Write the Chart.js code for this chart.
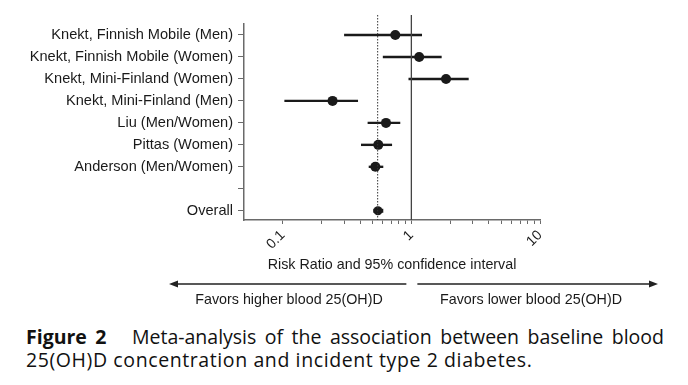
<!DOCTYPE html>
<html>
<head>
<meta charset="utf-8">
<script src="https://cdn.jsdelivr.net/npm/chart.js@4"></script>
<style>
  body { margin: 0; background: #fff; }
  #wrap { position: relative; width: 688px; height: 385px; }
  #caption {
    position: absolute; left: 26px; top: 325px; width: 638px;
    font-family: "Open Sans", "Noto Sans", sans-serif; font-size: 19.5px;
    line-height: 23px; color: #111;
  }
  #caption .l1 { white-space: nowrap; text-align: justify; text-align-last: justify; }
  #caption .l2 { letter-spacing: 0.6px; }
</style>
</head>
<body>
<div id="wrap">
  <canvas id="forest" width="688" height="310"></canvas>
  <div id="caption">
    <div class="l1"><b>Figure 2</b>&nbsp;&nbsp; Meta-analysis of the association between baseline blood</div>
    <div class="l2">25(OH)D concentration and incident type 2 diabetes.</div>
  </div>
</div>
<script>
const studies = [
  'Knekt, Finnish Mobile (Men)',
  'Knekt, Finnish Mobile (Women)',
  'Knekt, Mini-Finland (Women)',
  'Knekt, Mini-Finland (Men)',
  'Liu (Men/Women)',
  'Pittas (Women)',
  'Anderson (Men/Women)',
  '',
  'Overall'
];
const riskRatio = [0.75, 1.15, 1.86, 0.244, 0.635, 0.553, 0.525, null, 0.55];
const ciLower   = [0.30, 0.60, 0.95, 0.103, 0.457, 0.406, 0.466, null, 0.506];
const ciUpper   = [1.21, 1.72, 2.79, 0.385, 0.82, 0.708, 0.605, null, 0.605];
const pooledRR = 0.547;
const xTicks = [0.1, 0.2, 0.3, 0.4, 0.5, 0.6, 0.7, 0.8, 0.9, 1, 2, 3, 4, 5, 6, 7, 8, 9, 10];
const xLabels = [0.1, 1, 10];

const font = '"Liberation Sans", Arial, sans-serif';
const ink = '#1a1a1a';
const axisGray = '#6a6a6a';

const datasets = [];
// reference lines (no effect + pooled estimate), run slightly above the plot
datasets.push({
  type: 'line', data: [{x: 1, y: -0.91}, {x: 1, y: 8.42}],
  borderColor: '#444', borderWidth: 1.3, pointRadius: 0, clip: false
});
datasets.push({
  type: 'line', data: [{x: pooledRR, y: -0.91}, {x: pooledRR, y: 8.42}],
  borderColor: '#333', borderWidth: 1, borderDash: [1.5, 1.5], pointRadius: 0, clip: false
});
// confidence intervals
studies.forEach((s, i) => {
  if (riskRatio[i] == null) return;
  datasets.push({
    type: 'line', data: [{x: ciLower[i], y: i}, {x: ciUpper[i], y: i}],
    borderColor: ink, borderWidth: i === 8 ? 4 : 2.4, pointRadius: 0
  });
});
// point estimates
datasets.push({
  type: 'scatter',
  data: riskRatio.map((v, i) => v == null ? null : {x: v, y: i}).filter(p => p),
  backgroundColor: ink, borderColor: ink,
  pointRadius: riskRatio.filter(v => v != null).map((v, k, a) => k === a.length - 1 ? 4.5 : 5),
  borderWidth: 0
});

const favorsArrows = {
  id: 'favorsArrows',
  afterDraw(chart) {
    const ctx = chart.ctx;
    const mid = chart.scales.x.getPixelForValue(1);
    const y = 284;
    ctx.save();
    ctx.strokeStyle = '#222';
    ctx.fillStyle = '#222';
    ctx.lineWidth = 1.3;
    ctx.beginPath();
    ctx.moveTo(176, y); ctx.lineTo(mid - 5, y);
    ctx.moveTo(mid + 6, y); ctx.lineTo(651, y);
    ctx.stroke();
    ctx.beginPath();
    ctx.moveTo(169, y); ctx.lineTo(178, y - 3.5); ctx.lineTo(178, y + 3.5); ctx.closePath();
    ctx.moveTo(658, y); ctx.lineTo(649, y - 3.5); ctx.lineTo(649, y + 3.5); ctx.closePath();
    ctx.fill();
    ctx.font = '14.3px ' + font;
    ctx.fillStyle = ink;
    ctx.textAlign = 'center';
    ctx.textBaseline = 'middle';
    ctx.fillText('Favors higher blood 25(OH)D', 289, 300);
    ctx.fillText('Favors lower blood 25(OH)D', 531, 300);
    ctx.restore();
  }
};

new Chart(document.getElementById('forest'), {
  type: 'scatter',
  data: { datasets: datasets },
  options: {
    responsive: false,
    animation: false,
    layout: { padding: { top: 24, right: 148, bottom: 32, left: 0 } },
    plugins: { legend: { display: false }, tooltip: { enabled: false } },
    scales: {
      x: {
        type: 'logarithmic',
        position: 'bottom',
        min: 0.05,
        max: 10,
        afterBuildTicks: (s) => { s.ticks = xTicks.map(v => ({value: v})); },
        afterFit: (s) => { s.height = 58; },
        ticks: {
          autoSkip: false, minRotation: 45, maxRotation: 45, padding: 3,
          color: ink, font: { family: font, size: 14 },
          callback: (v) => xLabels.includes(v) ? String(v) : ''
        },
        grid: { drawOnChartArea: false, drawTicks: true, tickLength: 4, tickColor: axisGray },
        border: { display: true, color: axisGray, width: 1.5 },
        title: {
          display: true, text: 'Risk Ratio and 95% confidence interval',
          color: ink, font: { family: font, size: 14.3 }, padding: { top: 4, bottom: 4 }
        }
      },
      y: {
        type: 'linear',
        min: -0.5,
        max: 8.42,
        reverse: true,
        afterBuildTicks: (s) => { s.ticks = studies.map((_, i) => ({value: i})); },
        afterFit: (s) => { s.width = 244; },
        ticks: {
          autoSkip: false, padding: 5, color: ink,
          font: { family: font, size: 14.6 },
          callback: (v) => studies[v] ?? ''
        },
        grid: { drawOnChartArea: false, drawTicks: true, tickLength: 6, tickColor: axisGray },
        border: { display: true, color: axisGray, width: 1.5 }
      }
    }
  },
  plugins: [favorsArrows]
});
</script>
</body>
</html>
